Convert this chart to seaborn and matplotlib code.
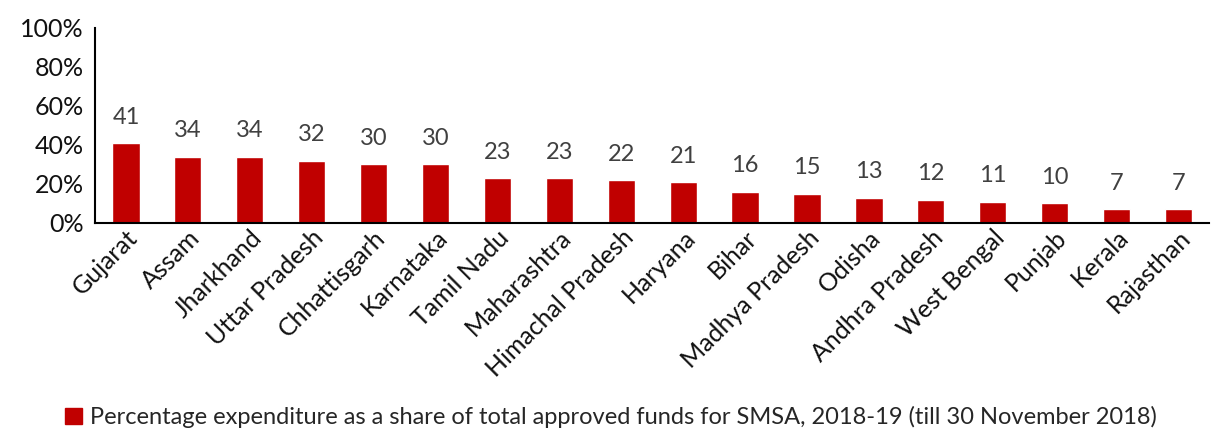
import matplotlib
matplotlib.use("Agg")
import matplotlib.pyplot as plt
from matplotlib.patches import Patch
from matplotlib.ticker import PercentFormatter
import pandas as pd
import seaborn as sns

states = [
    "Gujarat", "Assam", "Jharkhand", "Uttar Pradesh", "Chhattisgarh", "Karnataka",
    "Tamil Nadu", "Maharashtra", "Himachal Pradesh", "Haryana", "Bihar",
    "Madhya Pradesh", "Odisha", "Andhra Pradesh", "West Bengal", "Punjab",
    "Kerala", "Rajasthan",
]
expenditure_pct = [41, 34, 34, 32, 30, 30, 23, 23, 22, 21, 16, 15, 13, 12, 11, 10, 7, 7]
legend_label = "Percentage expenditure as a share of total approved funds for SMSA, 2018-19 (till 30 November 2018)"

BAR_COLOR = "#C00000"

sns.set_theme(style="white")
plt.rcParams["font.family"] = ["Lato", "DejaVu Sans"]

df = pd.DataFrame({"state": states, "pct": expenditure_pct})

fig = plt.figure(figsize=(12.18, 4.28), dpi=100)
ax = fig.add_axes([0.078, 0.479, 0.915, 0.456])
sns.barplot(data=df, x="state", y="pct", color=BAR_COLOR, width=0.44,
            saturation=1, ax=ax)

for container in ax.containers:
    ax.bar_label(container, labels=[str(v) for v in expenditure_pct],
                 padding=11, fontsize=17, color="#404040")

ax.set_ylim(0, 100)
ax.set_xlim(-0.5, len(states) - 0.5)
ax.set_yticks(range(0, 101, 20))
ax.yaxis.set_major_formatter(PercentFormatter(decimals=0))
ax.tick_params(axis="y", labelsize=18, length=0, pad=8, colors="#111111")
ax.tick_params(axis="x", labelsize=18, length=0, pad=2, colors="#111111")
plt.setp(ax.get_xticklabels(), rotation=45, ha="right", rotation_mode="anchor")
ax.set_xlabel("")
ax.set_ylabel("")

sns.despine(ax=ax)
for side in ("left", "bottom"):
    ax.spines[side].set_color("black")
    ax.spines[side].set_linewidth(1.5)

fig.legend(handles=[Patch(color=BAR_COLOR)], labels=[legend_label],
           loc="lower left", bbox_to_anchor=(0.036, -0.05), frameon=False,
           fontsize=17, handlelength=0.7, handleheight=0.7, handletextpad=0.35)

fig.savefig("out.png", dpi=100)
